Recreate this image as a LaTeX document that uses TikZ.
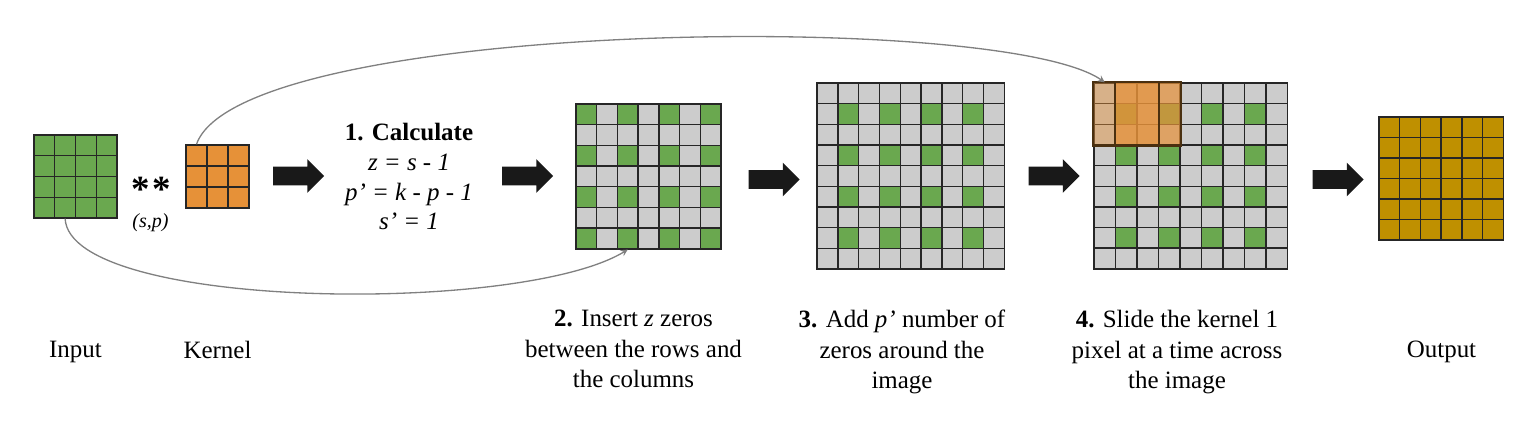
\documentclass[tikz,border=0pt]{standalone}
\usepackage{fontspec}
\setmainfont{Liberation Serif}
\usepackage{xcolor}
\usepackage{tikz}
\usetikzlibrary{positioning}
\usetikzlibrary{arrows,shapes}
\usetikzlibrary{shapes.arrows}
\usetikzlibrary{calc}
\definecolor{cellgreen}{HTML}{6AA84F}
\definecolor{cellgray}{HTML}{CCCCCC}
\definecolor{kernorange}{HTML}{E69138}
\definecolor{outgold}{HTML}{BF9000}
\definecolor{kernedge}{HTML}{4A3010}
\tikzstyle{cell}=[rectangle,draw=black!85,line width=0.8pt,inner sep=0pt,minimum width=\u cm,minimum height=\v cm]
\tikzstyle{greencell}=[cell,fill=cellgreen]
\tikzstyle{zerocell}=[cell,fill=cellgray]
\tikzstyle{kernelcell}=[cell,fill=kernorange]
\tikzstyle{outcell}=[cell,fill=outgold]
\tikzstyle{bigarrow}=[single arrow,fill=black!90,draw=none,inner xsep=0pt,inner ysep=0.18cm,minimum height=1.02cm,single arrow head extend=0.15cm]
\tikzstyle{curve} = [draw,gray,line width=0.75pt,-stealth]
\tikzstyle{steptext} = [align=center,inner sep=0pt,anchor=north,font=\fontsize{14.2}{17.35}\selectfont]
\tikzset{slidebox/.style={draw=kernedge,line width=1.3pt}}

\begin{document}
\begin{tikzpicture}[scale=1.]

 \useasboundingbox (0,0) rectangle (30.64,8.44);

 %Input
  \def\dx{0.8875}
  \def\dy{5.5325}
  \def\u{0.415}
  \def\v{0.415}

  \foreach \i in {1,...,4}
   \foreach \j in {1,...,4}
          \node[greencell] (in-\i-\j) at (\dx+\j*\u-\u, \dy-\i*\v+\v) {};

 %Kernel
  \def\dx{3.93}
  \def\dy{5.33}
  \def\u{0.42}
  \def\v{0.42}

  \foreach \i in {1,...,3}
   \foreach \j in {1,...,3}
          \node[kernelcell] (kr-\i-\j) at (\dx+\j*\u-\u, \dy-\i*\v+\v) {};

 \node[font=\fontsize{21}{21}\bfseries, anchor=base, inner sep=0pt] (conv) at (3.03,4.4) {*\kern1.5pt*};
 \node[font=\fontsize{11.4}{12}\itshape, anchor=base, inner sep=0pt] (sp) at (3.01,3.88) {(s,p)};

 %Step 2: insert zeros
  \def\dx{11.727}
  \def\dy{6.153}
  \def\u{0.414}
  \def\v{0.414}

  \foreach \i in {1,...,7}
   \foreach \j in {1,...,7} {
          \pgfmathtruncatemacro{\g}{mod(\i,2)*mod(\j,2)}
          \ifnum\g=1 \def\fc{cellgreen}\else\def\fc{cellgray}\fi
          \node[cell, fill=\fc] (ins-\i-\j) at (\dx+\j*\u-\u, \dy-\i*\v+\v) {};
   }

 %Step 3: padding
  \def\dx{16.548}
  \def\dy{6.572}
  \def\u{0.416}
  \def\v{0.413}

  \foreach \i in {1,...,9}
   \foreach \j in {1,...,9} {
          \pgfmathtruncatemacro{\g}{(1-mod(\i,2))*(1-mod(\j,2))}
          \ifnum\g=1 \def\fc{cellgreen}\else\def\fc{cellgray}\fi
          \node[cell, fill=\fc] (pad-\i-\j) at (\dx+\j*\u-\u, \dy-\i*\v+\v) {};
   }

 %Step 4: slide
  \def\dx{22.095}
  \def\dy{6.5735}
  \def\u{0.43}
  \def\v{0.413}

  \foreach \i in {1,...,9}
   \foreach \j in {1,...,9} {
          \pgfmathtruncatemacro{\g}{(1-mod(\i,2))*(1-mod(\j,2))}
          \ifnum\g=1 \def\fc{cellgreen}\else\def\fc{cellgray}\fi
          \node[cell, fill=\fc] (sl-\i-\j) at (\dx+\j*\u-\u, \dy-\i*\v+\v) {};
   }

 \fill[kernorange, opacity=0.45] (sl-1-1.north west) rectangle (sl-3-3.south east);
 \fill[kernorange, opacity=0.7] (sl-1-2.north west) rectangle (sl-3-4.south east);
 \draw[slidebox] (sl-1-1.north west) rectangle (sl-3-3.south east);
 \draw[slidebox] (sl-1-2.north west) rectangle (sl-3-4.south east);

 %Output
  \def\dx{27.787}
  \def\dy{5.893}
  \def\u{0.414}
  \def\v{0.41}

  \foreach \i in {1,...,6}
   \foreach \j in {1,...,6}
          \node[outcell] (out-\i-\j) at (\dx+\j*\u-\u, \dy-\i*\v+\v) {};

 %block arrows
  \foreach \x/\y/\name in {5.88/4.92/a1, 10.46/4.92/a2, 15.39/4.85/a3, 20.99/4.92/a4, 26.67/4.85/a5}
          \node[bigarrow] (\name) at (\x,\y) {};

 %curved links
 \draw[curve] (kr-1-1.north) .. controls (4.8,8.04) and (20.0,8.24) .. (sl-1-1.north);
 \draw[curve] (in-4-2.south) .. controls (1.4,2.24) and (10.4,2.14) .. (ins-7-3.south);

 %texts
 \node[steptext, font=\fontsize{14.2}{16.9}\selectfont] (calc) at (8.18,5.98)
   {\textbf{1. Calculate}\\ \textit{z = s - 1}\\ \textit{p’ = k - p - 1}\\ \textit{s’ = 1}};

 \node[steptext] (inlabel) at (1.51,1.62) {Input};
 \node[steptext] (krlabel) at (4.35,1.62) {Kernel};
 \node[steptext] (inslabel) at (12.67,2.24) {\textbf{2.} Insert \textit{z} zeros\\between the rows and\\the columns};
 \node[steptext] (padlabel) at (18.04,2.24) {\textbf{3.} Add \textit{p’} number of\\zeros around the\\image};
 \node[steptext] (sllabel) at (23.54,2.24) {\textbf{4.} Slide the kernel 1\\pixel at a time across\\the image};
 \node[steptext] (outlabel) at (28.83,1.62) {Output};

\end{tikzpicture}
\end{document}
